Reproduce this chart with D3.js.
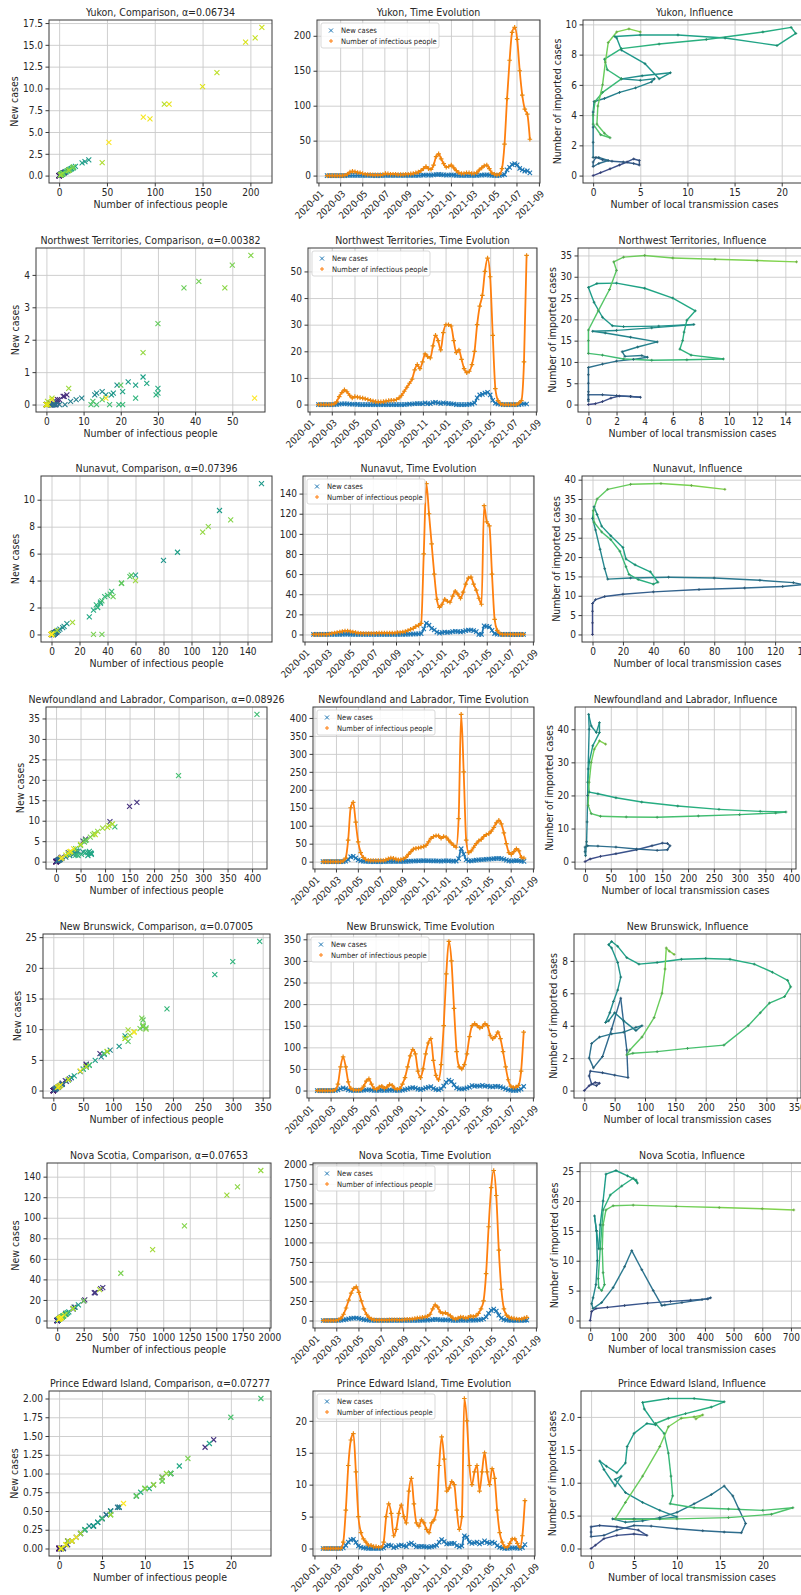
<!DOCTYPE html>
<html>
<head>
<meta charset="utf-8">
<script src="https://cdn.jsdelivr.net/npm/d3@7"></script>
<style>
  body { margin: 0; background: #fff; }
  svg { display: block; }
</style>
</head>
<body>
<div id="chart"></div>
<script>
// Provincias y coeficiente alfa de cada fila
const provinces = ["Yukon", "Northwest Territories", "Nunavut", "Newfoundland and Labrador",
                   "New Brunswick", "Nova Scotia", "Prince Edward Island"];
const alphas = ["0.06734", "0.00382", "0.07396", "0.08926", "0.07005", "0.07653", "0.07277"];

// Serie semanal: primer dato 2020-01-25, un valor cada 7 días (81 semanas)
const firstDay = new Date(2020, 0, 25);

// Personas infecciosas (una muestra por semana)
const yukonInfectious = [0,0,0,0,0,0,0,0.5,2,5, 6,5.5,4.5,4,3,2,1.5,1.5,1,1, 1,1,1.5,3,2.5,2,2,2,1.5,1.5,
  1.5,2,2,2.5,3,4,5,7,10,13, 10,9,15,27,31,24,17,12,13,15, 11,7,4,3,3,4,4,3,3,4,
  8,11,14,15,10,4,2,1,2,10, 45,110,165,205,212,195,150,115,95,88,52];
const nwtInfectious = [0,0,0,0,0,0,0.2,1,3,4.5, 5.5,4.8,3.5,2.5,3,2.8,2.6,2.4,2.2,1.9, 1.6,1.3,1.1,1,1,1.1,1.3,1.5,1.6,1.6,
  1.9,2.5,3.5,5,6.5,8,9.5,13,15,13.5, 16,19,18,17.5,22,26,24,20.5,27,30, 30,29.5,24,19.5,20.5,17,13.5,12,12.5,15,
  20,30,37,41,50,55,48,26,6,1.5, 0.3,0,0,0,0,0,0,0.5,1.5,16,56];
const nunavutInfectious = [0,0,0,0,0,0,0.5,1,1.5,2, 2.5,3,3.5,3.5,3,2.5,2,1.5,1.2,1, 1,1,1,1,1.2,1.3,1.5,1.5,1.5,1.5,
  1.5,1.5,2,2,2.5,3,4,5,6,8, 9,11,80,150,120,90,60,35,27,30, 35,33,32,38,43,40,36,42,50,56,
  57,50,44,36,30,128,112,108,60,15, 4,1,0,0,0,0,0,0,0,0,0];
const nlInfectious = [0,0,0,0,0,0,0,0,2,10, 60,150,165,110,55,25,12,6,4,3, 3,3,3,3,3,5,8,10,9,7,
  5,6,8,12,20,28,35,37,38,40, 42,45,55,65,70,72,72,65,70,68, 60,52,45,40,120,410,250,60,25,30,
  40,50,58,62,70,75,78,85,95,108, 115,105,80,50,25,20,28,36,30,12,10];
const nbInfectious = [0,0,0,0,0,0,0,2,15,55, 78,55,20,5,2,1,1,3,10,22, 27,15,5,3,8,10,5,8,14,12,
  5,3,5,15,30,55,80,95,85,45, 30,50,85,110,120,70,35,25,60,150, 270,345,300,190,90,55,50,60,85,125,
  150,155,150,145,148,155,150,128,120,125, 135,120,90,55,25,10,7,8,12,45,135];
const nsInfectious = [0,0,0,0,0,0,10,30,80,160, 260,350,410,430,360,250,150,80,40,20, 10,5,5,5,5,5,8,10,10,10,
  8,10,12,15,15,20,25,30,35,40, 45,55,80,150,200,170,110,90,100,80, 60,30,20,30,45,40,30,40,55,50,
  60,90,150,250,600,1200,1700,1920,1600,900, 400,150,70,40,30,25,20,15,20,30,40];
const peiInfectious = [0,0,0,0,0,0,0,0,1,6, 13,17,18,12,5,2.5,1.5,1,0.5,0.5, 0.3,0.3,0.2,0.2,1,5,7,5.5,2,3,
  5.5,6.8,5,4,9,11,7,4,3.5,4.5, 4,3,2.5,4,4.5,6,13,17.5,14,9, 9.5,10.5,10,6,3,5,23.5,20,13,10,
  12,13,9,12,15,12,10,12.5,11,6, 2.5,1,0.3,0.2,0.8,1.5,1.5,0.8,0.2,2,7.5];

// Casos nuevos (misma rejilla semanal)
const yukonNew = [0,0,0,0,0,0,0,0,0.1,0.3, 0.4,0.35,0.3,0.25,0.2,0.15,0.1,0.1,0.05,0.05, 0.05,0.05,0.1,0.2,0.15,0.1,0.1,0.1,0.1,0.1,
  0.1,0.1,0.1,0.15,0.2,0.25,0.3,0.45,0.65,0.8, 0.6,0.55,0.95,1.6,1.8,1.45,1.05,0.75,0.8,0.9, 0.65,0.4,0.25,0.15,0.2,0.25,0.25,0.2,0.2,0.25,
  0.5,0.7,0.9,1.0,0.6,0.25,0.1,0.05,0.1,0.6, 1.5,8.2,11.8,15.8,17,15.3,10.2,8.2,6.5,6.7,3.8];
const nwtNew = [0,0,0,0,0,0,0,0.05,0.15,0.25, 0.3,0.25,0.15,0.1,0.1,0.05,0,0,0,0, 0,0,0,0,0,0,0,0,0,0,
  0,0,0,0,0.1,0.15,0.2,0.3,0.4,0.35, 0.3,0.6,0.35,0.3,0.7,0.85,0.6,0.4,0.65,0.5, 0.35,0.3,0.2,0,0,0,0,0,0.1,0.15,
  0.6,2.5,3.6,3.8,4.3,4.6,3.6,1.6,0.5,0.2, 0.1,0,0,0,0,0,0,0,0.15,0.2,0.2];
const nunavutNew = [0,0,0,0,0,0,0,0,0.1,0.1, 0.1,0.15,0.2,0.2,0.15,0.1,0.1,0,0,0, 0,0,0,0,0,0,0,0,0,0,
  0,0,0.1,0.1,0.1,0.15,0.2,0.3,0.4,0.5, 0.6,0.8,5.5,11.2,9.2,6.1,4.4,2.4,1.3,1.8, 2.3,2.0,2.2,2.8,3.2,2.9,2.5,3.0,3.8,4.3,
  4.4,3.8,2.8,0,0,8.5,8.0,7.6,4.0,0.9, 0.3,0.1,0,0,0,0,0,0,0,0,0];
const nlNew = [0,0,0,0,0,0,0,0,0.2,1, 5.5,13.5,14.5,9.8,5,2.2,1.1,0.5,0.3,0.25, 0.25,0.25,0.2,0.2,0.2,0.4,0.6,0.8,0.7,0.5,
  0.35,0.4,0.5,0.8,1.1,1.5,1.8,2.0,2.2,2.5, 2.6,2.5,2.4,2.2,2.1,2.0,1.8,1.5,2.0,2.5, 2.2,1.8,1.5,1.6,8.5,36,21,5.2,1.8,2.2,
  3.2,4.0,4.8,5.3,6.0,6.6,6.9,7.4,8.2,8.8, 9.2,8.4,6.6,4.2,2.0,1.6,2.4,3.1,2.5,1.0,0.8];
const nbNew = [0,0,0,0,0,0,0,0.2,1.2,4.2, 6.0,4.3,1.6,0.4,0.15,0.1,0.1,0.2,0.7,1.5, 1.9,1.1,0.35,0.2,0.5,0.7,0.35,0.55,1.0,0.85,
  0.35,0.2,0.35,1.0,2.1,3.8,5.5,6.6,5.9,3.1, 2.1,3.5,6.0,7.2,8.9,4.9,2.4,1.7,4.1,10.4, 18.9,24.3,21.0,13.3,6.3,3.9,3.5,4.2,6.0,8.0,
  11.5,10.2,10.6,10.1,11.8,10.0,10.5,9.0,8.5,9.9, 9.6,8.5,6.4,3.9,1.8,0.7,0.5,0.6,0.9,3.2,9.5];
const nsNew = [0,0,0,0,0,0,1,3,7,13, 20,27,31,32,27,19,11,6,3,1.5, 0.8,0.4,0.4,0.4,0.4,0.4,0.6,0.8,0.8,0.8,
  0.6,0.8,0.9,1.1,1.1,1.5,1.9,2.3,2.7,3.0, 3.4,4.2,6.1,11.5,15.3,13,8.4,6.9,7.7,6.1, 4.6,2.3,1.5,2.3,3.4,3.1,2.3,3.1,4.2,3.8,
  4.6,6.9,11.5,19,46,92,130,146,122,69, 30,11.5,5.4,3.1,2.3,1.9,1.5,1.1,1.5,2.3,3.1];
const peiNew = [0,0,0,0,0,0,0,0,0.1,0.5, 1.0,1.35,1.45,0.95,0.4,0.2,0.1,0.05,0,0, 0,0,0,0,0.1,0.4,0.55,0.45,0.15,0.25,
  0.45,0.55,0.4,0.3,0.7,0.85,0.55,0.3,0.3,0.35, 0.3,0.25,0.2,0.3,0.35,0.5,1.0,1.4,1.1,0.7, 0.75,0.8,0.8,0.45,0.25,0.4,2.0,1.75,1.0,0.8,
  0.9,1.0,0.7,0.9,1.2,0.95,0.8,1.0,0.85,0.45, 0.2,0.1,0,0,0.05,0.1,0.1,0.05,0,0.15,0.6];

// Trayectorias de influencia: casos de transmisión local (x) y casos importados (y), en orden temporal
const yukonLocal = [0,0.8,1.8,2.8,3.6,4.3,4.9,4.9,4.3,3.2,2,1,0.3,0,0,0.6,1.6,0.6,0,0,0,0,0.1,1.2,2.8,4.5,6.2,6.5,5,3,5.2,8.2,7,5.5,3,2.5,2.3,5,9,14,19.5,21.5,21,18,12,7,3,1.2,1.5,3,1,0.2,0,0,0.8,1.8,1.2,0.4,0.5,1,1.3,1.6,2.5,3.8,5];
const yukonImported = [0,0.2,0.45,0.7,0.9,1.1,1.0,0.7,0.8,0.9,0.95,1.05,1.2,0.9,0.6,0.8,1.0,1.2,1.2,2.2,3.2,4.2,4.9,5.1,5.5,5.8,6.2,6.4,6.3,6.4,6.6,6.8,6.4,7.4,8.3,9.1,9.2,9.3,9.3,9.1,8.6,9.4,9.8,9.5,9.0,8.7,8.4,7.7,7.0,6.4,5.5,4.9,4.0,3.4,2.7,2.5,2.8,3.4,4.6,6,7.5,8.8,9.5,9.7,9.5];
const nwtLocal = [0,0.5,1,1.6,2.2,3,3.7,3,2,1,0,0,0,0,0,0,0,1,2,3.2,4.2,3.8,2.6,2.4,3.5,4.9,3,1.2,0.3,2,4.5,7.5,5,2.5,1.7,1,0.4,0,0.6,2,4,6,7.6,7,6.8,6.7,6.5,7.3,9.6,7,4.5,2.5,1,0,0,0,0.7,1.5,2,1.8,2.5,4,6,9,12,14.8];
const nwtImported = [0,0.2,0.7,1.5,2.0,1.9,1.7,1.9,2.1,2.3,2.3,1.2,0.8,3,5,7,8.7,9.5,10.2,10.6,11.1,11.5,11.3,12.4,13.5,14.7,15.8,16.8,17.2,17.4,18,18.8,18.4,18.3,18.5,20.5,24,27.5,28.4,28.5,27.3,25,22,19.8,17,15,13,11.6,10.7,10.5,10.4,10.7,11.6,12,15,17.5,22,27,31.5,33.5,34.6,35,34.4,34.1,33.8,33.5];
const nunavutLocal = [0,0,0,0,2,8,20,40,70,100,125,138,132,110,80,50,25,10,8,5,2,0,1,3,6,12,20,22,28,38,43,40,30,24,22,18,12,6,1,0.5,3,10,25,45,65,87];
const nunavutImported = [0,3,6,8,9,9.8,10.4,11,11.6,12,12.4,12.9,13.4,14,14.6,14.8,14.6,14.3,17,22,27,30,33,31,28,25.5,22.5,19.5,18,16.2,13.5,13,14.2,15.5,17.5,21.5,24.5,26.5,29,32,35,37.5,38.8,39,38.5,37.5];
const nlLocal = [0,10,30,60,100,130,150,160,165,160,140,100,60,25,5,0,0,1,3,4,5,6,8,7,12,22,28,28,15,8,5,8,25,60,110,180,260,340,390,370,300,220,140,80,30,12,6,8,12,18,28,40];
const nlImported = [0,0.8,1.6,2.4,3.6,4.8,5.6,5.5,4.8,3.6,3.4,3.8,4.4,4.7,4.8,4.4,3,1.8,6,12,20,28,40,44.5,41,39,42,39,35,30,24,21,20.5,19.3,18,16.8,15.8,15.2,15,14.7,14.2,13.8,13.4,13.5,13.7,14.5,17,24,30,34,36.5,35.5];
const nbLocal = [0,8,18,25,20,12,8,10,30,50,72,70,60,45,30,15,8,12,25,45,65,85,95,85,65,50,40,35,42,48,55,60,55,45,40,45,55,70,90,120,160,200,240,280,310,335,340,330,305,290,270,230,170,120,80,70,75,95,115,128,133,135,140,148];
const nbImported = [0,0.3,0.5,0.45,0.3,0.4,0.9,1.2,1.1,0.95,0.8,2.5,5.7,3.8,2.1,1.4,2,2.9,3.3,3.5,3.6,3.9,4.0,3.7,4.3,4.8,4.3,4.2,4.8,5.5,6.2,7.0,7.9,8.8,9.0,9.2,8.9,8.2,7.8,7.9,8.1,8.15,8.1,7.8,7.3,6.8,6.4,5.8,5.4,4.8,4.0,2.8,2.6,2.4,2.3,2.2,2.5,3.3,4.5,6,7.5,8.8,8.6,8.4];
const nsLocal = [0,5,20,60,120,200,280,350,410,420,390,320,260,250,220,180,145,120,80,40,10,5,10,20,25,22,15,22,30,35,45,55,90,130,160,165,150,110,70,45,35,28,30,40,50,45,42,45,55,80,150,300,450,600,710];
const nsImported = [0,1.5,2,2.2,2.5,2.9,3.2,3.4,3.6,3.8,3.5,3.0,2.6,2.5,5,8.5,11.7,9,5.5,3,2,2.8,3.8,6,10,15,17.5,15,12,16,20,24.5,25.1,24.2,23.5,23,23.8,22.5,21,18.5,12,7,5.5,5,6,8,12,16,18.5,19.2,19.3,19.1,18.9,18.7,18.5];
const peiLocal = [0,0.5,1.5,3,5,6.5,5.5,3,1,0,0,0,1.5,3,5,7,10,13,15.5,17.5,18,17.2,16.5,15.5,14,12,10,8,6,4,2.5,5,8,10,8,6,4,2.8,3.5,2.8,1.5,1,1.8,3,4,4.2,5,6.5,7.5,6.2,6,9,12,15.5,14,11,9,7.5,8.5,9,9.3,9.5,9.2,12,16,20,23.5,21,16,10,5,2.8,4,6,8,9,10.5,12,13,12.2];
const peiImported = [0,0.05,0.15,0.2,0.22,0.2,0.28,0.33,0.35,0.33,0.25,0.18,0.2,0.28,0.35,0.34,0.3,0.27,0.25,0.24,0.38,0.6,0.8,0.95,0.82,0.68,0.55,0.47,0.42,0.4,0.45,0.45,0.45,0.48,0.58,0.7,0.85,1.05,1.1,0.95,1.2,1.33,1.25,1.15,1.3,1.55,1.75,1.9,1.88,2.12,2.22,2.28,2.28,2.23,2.15,2.05,1.98,1.9,1.75,1.45,1.1,0.8,0.68,0.62,0.6,0.58,0.62,0.52,0.47,0.45,0.44,0.45,0.7,1.1,1.55,1.85,1.98,2.0,2.03,1.97];

// Marcas de los ejes
const compXTicks = [[0,50,100,150,200],[0,10,20,30,40,50],[0,20,40,60,80,100,120,140],[0,50,100,150,200,250,300,350,400],
  [0,50,100,150,200,250,300,350],[0,250,500,750,1000,1250,1500,1750,2000],[0,5,10,15,20]];
const compYTicks = [[0,2.5,5,7.5,10,12.5,15,17.5],[0,1,2,3,4],[0,2,4,6,8,10],[0,5,10,15,20,25,30,35],
  [0,5,10,15,20,25],[0,20,40,60,80,100,120,140],[0,0.25,0.5,0.75,1,1.25,1.5,1.75,2]];
const timeYTicks = [[0,50,100,150,200],[0,10,20,30,40,50],[0,20,40,60,80,100,120,140],[0,50,100,150,200,250,300,350,400],
  [0,50,100,150,200,250,300,350],[0,250,500,750,1000,1250,1500,1750,2000],[0,5,10,15,20]];
const inflXTicks = [[0,5,10,15,20],[0,2,4,6,8,10,12,14],[0,20,40,60,80,100,120,140],[0,50,100,150,200,250,300,350,400],
  [0,50,100,150,200,250,300,350],[0,100,200,300,400,500,600,700],[0,5,10,15,20]];
const inflYTicks = [[0,2,4,6,8,10],[0,5,10,15,20,25,30,35],[0,5,10,15,20,25,30,35,40],[0,10,20,30,40],
  [0,2,4,6,8],[0,5,10,15,20,25],[0,0.5,1,1.5,2]];

const infectious = [yukonInfectious, nwtInfectious, nunavutInfectious, nlInfectious, nbInfectious, nsInfectious, peiInfectious];
const newCases = [yukonNew, nwtNew, nunavutNew, nlNew, nbNew, nsNew, peiNew];
const localCases = [yukonLocal, nwtLocal, nunavutLocal, nlLocal, nbLocal, nsLocal, peiLocal];
const importedCases = [yukonImported, nwtImported, nunavutImported, nlImported, nbImported, nsImported, peiImported];

// Posición de cada fila (cada fila era una figura distinta)
const rowLayout = [
  { top: 20, bottom: 183, lefts: [49, 317, 583], width: 223 },
  { top: 248, bottom: 412, lefts: [36, 308, 578], width: 229 },
  { top: 476, bottom: 642, lefts: [41, 303, 582], width: 231 },
  { top: 707, bottom: 869, lefts: [46, 313, 575], width: 221 },
  { top: 934, bottom: 1098, lefts: [43, 307, 574], width: 227 },
  { top: 1163, bottom: 1328, lefts: [47, 313, 580], width: 224 },
  { top: 1391, bottom: 1556, lefts: [49, 313, 581], width: 222 }
];

const FONT = "'DejaVu Sans Condensed', 'DejaVu Sans', sans-serif";
const BLUE = "#1f77b4", ORANGE = "#ff7f0e";

const svg = d3.select("#chart").append("svg")
    .attr("width", 801)
    .attr("height", 1595)
    .style("font-family", FONT);

// Margen del 5 % como en matplotlib
function padded(ext) {
    const d = ext[1] - ext[0];
    return [ext[0] - 0.05 * d, ext[1] + 0.05 * d];
}

// Formato con el número de decimales de la marca más larga
function tickFormat(ticks) {
    const dec = d3.max(ticks, v => {
        const s = String(v), i = s.indexOf(".");
        return i < 0 ? 0 : s.length - i - 1;
    });
    return d3.format("." + dec + "f");
}

function crossPath(pts, s) {
    return pts.map(([x, y]) => `M${x - s},${y - s}L${x + s},${y + s}M${x - s},${y + s}L${x + s},${y - s}`).join("");
}
function plusPath(pts, s) {
    return pts.map(([x, y]) => `M${x - s},${y}H${x + s}M${x},${y - s}V${y + s}`).join("");
}

function inRange(ticks, scale) {
    const [a, b] = d3.extent(scale.domain());
    return ticks.filter(t => t >= a && t <= b);
}

/**
 * Dibuja rejilla, marco y ejes de un panel.
 */
function drawAxes(g, x, y, xt, yt, w, h, opts) {
    const grid = g.insert("g", ":first-child");
    grid.append("g").attr("transform", `translate(0,${h})`)
        .call(d3.axisBottom(x).tickValues(xt).tickSize(-h).tickFormat(""));
    grid.append("g")
        .call(d3.axisLeft(y).tickValues(yt).tickSize(-w).tickFormat(""));
    grid.selectAll(".domain").remove();
    grid.selectAll("line").attr("stroke", "#c9c9c9").attr("stroke-width", 0.9);

    g.append("rect").attr("width", w).attr("height", h)
        .attr("fill", "none").attr("stroke", "#3a3a3a").attr("stroke-width", 1);

    const ax = g.append("g").attr("transform", `translate(0,${h})`)
        .call(d3.axisBottom(x).tickValues(xt).tickSize(3.5).tickPadding(2.5).tickFormat(opts.xFormat));
    const ay = g.append("g")
        .call(d3.axisLeft(y).tickValues(yt).tickSize(3.5).tickPadding(2.5).tickFormat(opts.yFormat));
    [ax, ay].forEach(a => {
        a.attr("font-family", null).attr("font-size", 10);
        a.select(".domain").remove();
        a.selectAll(".tick line").attr("stroke", "#3a3a3a");
        a.selectAll(".tick text").attr("fill", "#262626");
    });
    if (opts.dates) {
        ax.attr("font-size", 9.5);
        ax.selectAll(".tick text")
            .attr("y", 0).attr("dy", "0.35em")
            .attr("text-anchor", "end")
            .attr("transform", "translate(3,9) rotate(-45)");
    }

    g.append("text").attr("x", w / 2).attr("y", -4.5)
        .attr("text-anchor", "middle").attr("font-size", 10.5).attr("fill", "#262626")
        .text(opts.title);

    if (opts.xLabel) {
        g.append("text").attr("x", w / 2).attr("y", h + 25)
            .attr("text-anchor", "middle").attr("font-size", 10.5).attr("fill", "#262626")
            .text(opts.xLabel);
    }
    if (opts.yLabel) {
        let maxW = 0;
        ay.selectAll(".tick text").each(function() { maxW = Math.max(maxW, this.getComputedTextLength()); });
        g.append("text")
            .attr("transform", `translate(${-maxW - 11},${h / 2}) rotate(-90)`)
            .attr("text-anchor", "middle").attr("font-size", 10.5).attr("fill", "#262626")
            .text(opts.yLabel);
    }
}

function drawComparison(g, r, w, h) {
    const inf = infectious[r], nc = newCases[r];
    const n = Math.min(inf.length, nc.length);
    const x = d3.scaleLinear().domain(padded(d3.extent(inf))).range([0, w]);
    const y = d3.scaleLinear().domain(padded(d3.extent(nc))).range([h, 0]);
    for (let i = 0; i < n; i++) {
        g.append("path")
            .attr("d", crossPath([[x(inf[i]), y(nc[i])]], 2.5))
            .attr("stroke", d3.interpolateViridis(i / (n - 1)))
            .attr("stroke-width", 1.1)
            .attr("fill", "none");
    }
    const xt = inRange(compXTicks[r], x), yt = inRange(compYTicks[r], y);
    drawAxes(g, x, y, xt, yt, w, h, {
        title: `${provinces[r]}, Comparison, \u03b1=${alphas[r]}`,
        xFormat: tickFormat(compXTicks[r]), yFormat: tickFormat(compYTicks[r]),
        xLabel: "Number of infectious people", yLabel: "New cases"
    });
}

function drawTime(g, r, w, h) {
    const inf = infectious[r], nc = newCases[r];
    const dates = inf.map((_, k) => d3.timeDay.offset(firstDay, 7 * k));
    const x = d3.scaleTime()
        .domain([d3.timeDay.offset(dates[0], -28), d3.timeDay.offset(dates[dates.length - 1], 28)])
        .range([0, w]);
    const maxV = Math.max(d3.max(inf), d3.max(nc));
    const y = d3.scaleLinear().domain(padded([0, maxV])).range([h, 0]);

    const line = d3.line().curve(d3.curveMonotoneX).x(d => x(d[0])).y(d => y(d[1]));
    const ncPts = nc.map((v, k) => [dates[k], v]);
    const infPts = inf.map((v, k) => [dates[k], v]);

    g.append("path").attr("d", line(ncPts)).attr("fill", "none")
        .attr("stroke", BLUE).attr("stroke-width", 1.8);
    g.append("path").attr("d", crossPath(ncPts.map(d => [x(d[0]), y(d[1])]), 2.2))
        .attr("stroke", BLUE).attr("stroke-width", 1.1).attr("fill", "none");
    g.append("path").attr("d", line(infPts)).attr("fill", "none")
        .attr("stroke", ORANGE).attr("stroke-width", 1.8);
    g.append("path").attr("d", plusPath(infPts.map(d => [x(d[0]), y(d[1])]), 2.3))
        .attr("stroke", "#ea870f").attr("stroke-width", 1.2).attr("fill", "none");

    const dateTicks = d3.timeMonth.every(2).range(new Date(2020, 0, 1), new Date(2021, 8, 2));
    const yt = inRange(timeYTicks[r], y);
    drawAxes(g, x, y, dateTicks, yt, w, h, {
        title: `${provinces[r]}, Time Evolution`,
        xFormat: d3.timeFormat("%Y-%m"), yFormat: tickFormat(timeYTicks[r]),
        dates: true
    });

    // Leyenda
    const lg = g.append("g").attr("transform", "translate(4,3)");
    lg.append("rect").attr("width", 118).attr("height", 25).attr("rx", 2)
        .attr("fill", "#fff").attr("fill-opacity", 0.85).attr("stroke", "#cfcfcf").attr("stroke-width", 0.8);
    lg.append("path").attr("d", crossPath([[10, 7.5]], 2)).attr("stroke", BLUE).attr("stroke-width", 1);
    lg.append("path").attr("d", plusPath([[10, 18]], 2)).attr("stroke", ORANGE).attr("stroke-width", 1);
    lg.append("text").attr("x", 20).attr("y", 10).attr("font-size", 7.5).attr("fill", "#262626").text("New cases");
    lg.append("text").attr("x", 20).attr("y", 20.5).attr("font-size", 7.5).attr("fill", "#262626").text("Number of infectious people");
}

function drawInfluence(g, r, w, h) {
    const lx = localCases[r], iy = importedCases[r];
    const n = Math.min(lx.length, iy.length);
    const x = d3.scaleLinear().domain(padded(d3.extent(lx))).range([0, w]);
    const y = d3.scaleLinear().domain(padded(d3.extent(iy))).range([h, 0]);
    const color = i => d3.interpolateViridis(0.22 + 0.6 * i / (n - 1));
    for (let i = 0; i < n - 1; i++) {
        g.append("line")
            .attr("x1", x(lx[i])).attr("y1", y(iy[i]))
            .attr("x2", x(lx[i + 1])).attr("y2", y(iy[i + 1]))
            .attr("stroke", color(i)).attr("stroke-width", 1.4);
    }
    for (let i = 0; i < n; i++) {
        g.append("path").attr("d", plusPath([[x(lx[i]), y(iy[i])]], 1.4))
            .attr("stroke", d3.color(color(i)).darker(0.6)).attr("stroke-width", 0.9);
    }
    const xt = inRange(inflXTicks[r], x), yt = inRange(inflYTicks[r], y);
    drawAxes(g, x, y, xt, yt, w, h, {
        title: `${provinces[r]}, Influence`,
        xFormat: tickFormat(inflXTicks[r]), yFormat: tickFormat(inflYTicks[r]),
        xLabel: "Number of local transmission cases", yLabel: "Number of imported cases"
    });
}

rowLayout.forEach((row, r) => {
    const h = row.bottom - row.top, w = row.width;
    const panels = [drawComparison, drawTime, drawInfluence];
    panels.forEach((draw, c) => {
        const g = svg.append("g").attr("transform", `translate(${row.lefts[c]},${row.top})`);
        draw(g, r, w, h);
    });
});
</script>
</body>
</html>
